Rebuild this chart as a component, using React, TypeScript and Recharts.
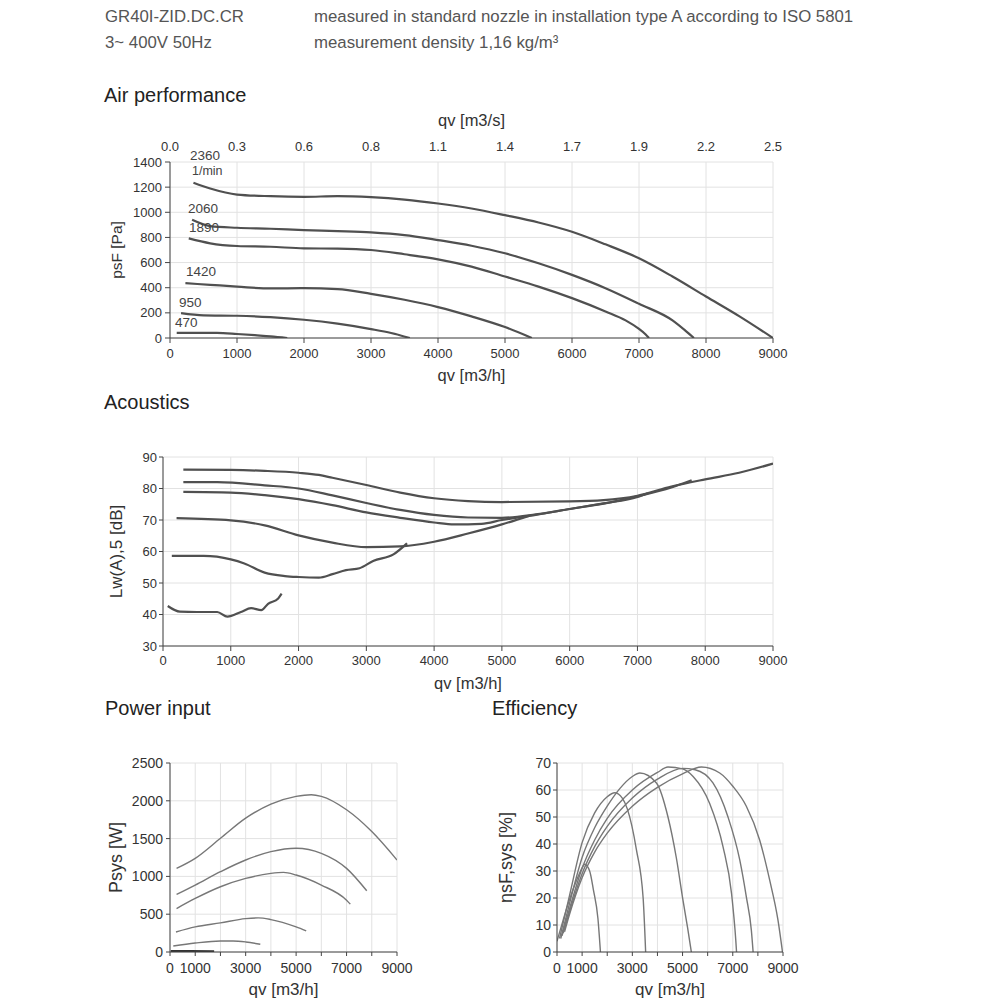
import { CartesianGrid, Line, LineChart, ReferenceDot, XAxis, YAxis } from "recharts";

const TEXT = "#333";
const HEAD = "#555";
const GRID = "#e2e2e2";
const AXIS = "#444";
const THICK = "#505050";
const THIN = "#777";
const FONT = "'Liberation Sans', Arial, sans-serif";

const SPEEDS = ["2360", "2060", "1890", "1420", "950", "470"];

// shared qv axis, m3/h
const QV_TICKS = [0, 1000, 2000, 3000, 4000, 5000, 6000, 7000, 8000, 9000];
const QV_S_LABELS = ["0.0", "0.3", "0.6", "0.8", "1.1", "1.4", "1.7", "1.9", "2.2", "2.5"];
const QV_SMALL_LABELS = ["0", "1000", "", "3000", "", "5000", "", "7000", "", "9000"];
const PSF_TICKS = [0, 200, 400, 600, 800, 1000, 1200, 1400];
const LW_TICKS = [30, 40, 50, 60, 70, 80, 90];
const PSYS_TICKS = [0, 500, 1000, 1500, 2000, 2500];
const ETA_TICKS = [0, 10, 20, 30, 40, 50, 60, 70];

// Air performance, psF [Pa]
const AIR_2360 = [[350, 1235], [600, 1189], [1000, 1141], [1500, 1128], [2000, 1123], [2500, 1128], [3000, 1120], [3500, 1101], [4000, 1070], [4500, 1030], [5000, 977], [5500, 919], [6000, 845], [6500, 745], [7000, 634], [7500, 489], [8000, 330], [8500, 172], [9000, 0]];
const AIR_2060 = [[330, 940], [600, 890], [1000, 877], [1500, 869], [2000, 858], [2500, 850], [3000, 840], [3500, 819], [4000, 779], [4500, 734], [5000, 674], [5500, 594], [6000, 502], [6500, 396], [7000, 272], [7500, 140], [7700, 55], [7820, 0]];
const AIR_1890 = [[280, 792], [600, 753], [1000, 732], [1500, 726], [2000, 713], [2500, 711], [3000, 700], [3500, 666], [4000, 626], [4500, 568], [5000, 489], [5500, 409], [6000, 317], [6500, 211], [6800, 140], [7000, 72], [7100, 28], [7150, 0]];
const AIR_1420 = [[230, 436], [600, 423], [1000, 409], [1500, 394], [2000, 396], [2500, 389], [3000, 351], [3500, 304], [4000, 246], [4500, 172], [5000, 87], [5400, 0]];
const AIR_950 = [[165, 198], [500, 180], [1000, 177], [1500, 166], [2000, 145], [2500, 114], [3000, 71], [3300, 40], [3580, 0]];
const AIR_470 = [[100, 40], [700, 40], [1000, 32], [1300, 21], [1500, 13], [1750, 0]];

// Acoustics, Lw(A),5 [dB]
const AC_2360 = [[300, 86], [1000, 85.9], [1500, 85.6], [2000, 85], [2300, 84.3], [2500, 83.4], [3000, 81.1], [3500, 78.7], [4000, 76.9], [4500, 76], [5000, 75.7], [6000, 75.9], [6500, 76.3], [7000, 77.7], [7500, 80.6], [8000, 82.9], [8500, 85], [9000, 87.9]];
const AC_2060 = [[300, 82], [800, 82], [1500, 81], [2000, 80], [2500, 77.8], [3000, 75.4], [3500, 73.2], [4000, 71.6], [4500, 70.8], [5000, 70.7], [5500, 71.8], [6000, 73.5], [6500, 75.2], [7000, 77.5], [7500, 80.3], [7800, 82.6]];
const AC_1890 = [[300, 78.9], [1000, 78.7], [1500, 77.9], [2000, 76.6], [2500, 74.7], [3000, 72.4], [3500, 70.7], [4000, 69.2], [4300, 68.6], [4700, 68.8], [5000, 70], [5500, 71.6], [6000, 73.5], [6500, 75.3], [7000, 77.3], [7150, 78.5]];
const AC_1420 = [[200, 70.6], [1000, 69.9], [1500, 68.3], [2000, 65.1], [2500, 62.8], [3000, 61.4], [3500, 61.6], [4000, 63.1], [4500, 65.7], [5000, 68.6], [5400, 71.3]];
const AC_950 = [[130, 58.6], [600, 58.6], [1000, 57.5], [1200, 56.2], [1500, 53.3], [1800, 52.2], [2000, 51.9], [2300, 51.7], [2500, 52.8], [2700, 54.1], [2900, 54.7], [3100, 57], [3400, 59.1], [3600, 62.6]];
const AC_470 = [[70, 42.7], [250, 40.9], [500, 40.8], [800, 40.8], [950, 39.3], [1150, 40.8], [1300, 42], [1450, 41.4], [1550, 43.4], [1700, 45.1], [1750, 46.6]];

// Power input, Psys [W]
const PW_2360 = [[260, 1106], [1000, 1239], [2000, 1504], [3000, 1770], [4000, 1956], [5000, 2058], [5600, 2080], [6000, 2058], [7000, 1881], [8000, 1593], [9000, 1217]];
const PW_2060 = [[260, 761], [1000, 885], [2000, 1062], [3000, 1217], [4000, 1327], [5000, 1372], [6000, 1305], [7000, 1106], [7800, 810]];
const PW_1890 = [[260, 575], [1000, 708], [2000, 863], [3000, 973], [4000, 1040], [4500, 1053], [5000, 1018], [6000, 885], [7000, 686], [7150, 633]];
const PW_1420 = [[237, 265], [1000, 332], [2000, 385], [3000, 442], [3500, 451], [4000, 429], [5000, 332], [5400, 279]];
const PW_950 = [[130, 80], [1000, 119], [2000, 146], [2500, 146], [3000, 133], [3580, 102]];
const PW_470 = [[30, 12], [800, 12], [1750, 10]];

// Efficiency, etaSF,sys [%]
const EF_2360 = [[300, 7.5], [500, 14], [1000, 27.5], [1500, 37], [2000, 44], [3000, 54], [4000, 61], [5000, 66], [5750, 68.5], [6480, 66.3], [7010, 61.3], [7540, 54], [8070, 41.5], [8470, 26.6], [8800, 11.8], [8980, 0]];
const EF_2060 = [[250, 7], [500, 15], [1000, 29], [1500, 39], [2000, 46.5], [3000, 57], [4000, 64], [5000, 68], [5500, 67.5], [6210, 62.6], [6810, 50], [7280, 34], [7540, 20.4], [7740, 8], [7810, 0]];
const EF_1890 = [[200, 6], [500, 16], [1000, 31], [1500, 41.5], [2000, 49.5], [3000, 60], [4000, 66.5], [4420, 68.5], [5000, 67.8], [5420, 65], [6080, 55], [6610, 39], [6950, 21.7], [7120, 4.3], [7150, 0]];
const EF_1420 = [[150, 5], [500, 18], [1000, 35], [1500, 46], [2000, 54], [2500, 60.5], [3000, 65], [3300, 66.3], [3960, 62.6], [4420, 50], [4750, 35], [5020, 19], [5200, 9], [5350, 0]];
const EF_950 = [[100, 5], [500, 21], [1000, 40.5], [1500, 51.5], [2000, 57.5], [2300, 59], [2600, 57], [2800, 53], [3160, 38], [3430, 20], [3530, 0]];
const EF_470 = [[0, 4], [250, 12], [500, 19.5], [800, 27], [1000, 31.2], [1100, 32.5], [1300, 30], [1450, 23], [1630, 12.4], [1730, 0]];

const AIR = [AIR_2360, AIR_2060, AIR_1890, AIR_1420, AIR_950, AIR_470];
const ACOUSTICS = [AC_2360, AC_2060, AC_1890, AC_1420, AC_950, AC_470];
const POWER = [PW_2360, PW_2060, PW_1890, PW_1420, PW_950, PW_470];
const EFFICIENCY = [EF_2360, EF_2060, EF_1890, EF_1420, EF_950, EF_470];

// where the speed labels sit on the air performance chart (qv, psF)
const SPEED_LABEL_AT = [[299, 1456], [269, 1034], [284, 883], [239, 533], [134, 286], [75, 127]];
const UNIT_LABEL_AT = [328, 1328];

const toPts = (pairs: number[][]) => pairs.map(([q, v]) => ({ q, v }));

function yTitle(text: string, x: number, fontSize: number) {
  return {
    content: (props: any) => {
      const vb = props.viewBox || { y: 0, height: 0 };
      const y = vb.y + vb.height / 2;
      return (
        <text
          x={x}
          y={y}
          transform={`rotate(-90 ${x} ${y})`}
          textAnchor="middle"
          dominantBaseline="central"
          fontSize={fontSize}
          fill={TEXT}
          fontFamily={FONT}
        >
          {text}
        </text>
      );
    },
  };
}

function curves(series: number[][][], xAxisId: string | number, color: string, width: number, lastColor?: string) {
  return series.map((s, i) => {
    const isLast = lastColor && i === series.length - 1;
    return (
      <Line
        key={SPEEDS[i]}
        xAxisId={xAxisId}
        data={toPts(s)}
        dataKey="v"
        type="monotone"
        stroke={isLast ? lastColor : color}
        strokeWidth={isLast ? 2.2 : width}
        dot={false}
        activeDot={false}
        isAnimationActive={false}
      />
    );
  });
}

const abs = (left: number, top: number): React.CSSProperties => ({ position: "absolute", left, top });

export default function App() {
  const tick13 = { fontSize: 13, fill: TEXT, fontFamily: FONT };
  const tick14 = { fontSize: 14, fill: TEXT, fontFamily: FONT };
  const head = { fontSize: 16.8, lineHeight: "18px", color: HEAD, whiteSpace: "nowrap" as const };
  const title = { fontSize: 20, lineHeight: "22px", color: "#222", whiteSpace: "nowrap" as const };
  return (
    <div style={{ position: "absolute", left: 0, top: 0, width: 1000, height: 1008, background: "#fff", fontFamily: FONT, overflow: "hidden" }}>
      <div style={{ ...abs(105, 8), ...head }}>GR40I-ZID.DC.CR</div>
      <div style={{ ...abs(314, 8), ...head }}>measured in standard nozzle in installation type A according to ISO 5801</div>
      <div style={{ ...abs(105, 34), ...head }}>3~ 400V 50Hz</div>
      <div style={{ ...abs(314, 34), ...head }}>measurement density 1,16 kg/m³</div>

      <div style={{ ...abs(104, 84), ...title }}>Air performance</div>
      <div style={{ ...abs(104, 391), ...title }}>Acoustics</div>
      <div style={{ ...abs(105, 697), ...title }}>Power input</div>
      <div style={{ ...abs(492, 697), ...title }}>Efficiency</div>

      {/* Air performance */}
      <div style={abs(0, 0)}>
        <LineChart width={1000} height={400} margin={{ top: 132, right: 227, bottom: 32, left: 110 }}>
          <CartesianGrid xAxisId="bottom" stroke={GRID} />
          <XAxis
            xAxisId="top"
            orientation="top"
            type="number"
            dataKey="q"
            domain={[0, 9000]}
            allowDataOverflow
            ticks={QV_TICKS}
            tickFormatter={(v: number) => QV_S_LABELS[QV_TICKS.indexOf(v)]}
            axisLine={false}
            tickLine={false}
            tickSize={0}
            tickMargin={11}
            height={30}
            tick={tick13}
            interval={0}
            label={{ value: "qv [m3/s]", position: "top", offset: 6, fontSize: 16.5, fill: TEXT, fontFamily: FONT }}
          />
          <XAxis
            xAxisId="bottom"
            type="number"
            dataKey="q"
            domain={[0, 9000]}
            allowDataOverflow
            ticks={QV_TICKS}
            stroke={AXIS}
            tickSize={5}
            tickMargin={6}
            height={30}
            tick={tick13}
            interval={0}
            label={{ value: "qv [m3/h]", position: "bottom", offset: 1, fontSize: 16.5, fill: TEXT, fontFamily: FONT }}
          />
          <YAxis
            type="number"
            domain={[0, 1400]}
            allowDataOverflow
            ticks={PSF_TICKS}
            stroke={AXIS}
            tickSize={5}
            tickMargin={3}
            width={60}
            tick={tick13}
            interval={0}
            label={yTitle("psF [Pa]", 116, 15.5)}
          />
          {curves(AIR, "bottom", THICK, 2.2)}
          {SPEEDS.map((s, i) => (
            <ReferenceDot
              key={"l" + s}
              xAxisId="bottom"
              x={SPEED_LABEL_AT[i][0]}
              y={SPEED_LABEL_AT[i][1]}
              r={0}
              stroke="none"
              fill="none"
              ifOverflow="visible"
              label={{ value: s, position: "right", offset: 0, fontSize: 13.5, fill: "#444", fontFamily: FONT }}
            />
          ))}
          <ReferenceDot
            xAxisId="bottom"
            x={UNIT_LABEL_AT[0]}
            y={UNIT_LABEL_AT[1]}
            r={0}
            stroke="none"
            fill="none"
            ifOverflow="visible"
            label={{ value: "1/min", position: "right", offset: 0, fontSize: 12.5, fill: "#444", fontFamily: FONT }}
          />
        </LineChart>
      </div>

      {/* Acoustics */}
      <div style={abs(0, 400)}>
        <LineChart width={1000} height={300} margin={{ top: 57, right: 227, bottom: 24, left: 103 }}>
          <CartesianGrid stroke={GRID} />
          <XAxis
            type="number"
            dataKey="q"
            domain={[0, 9000]}
            allowDataOverflow
            ticks={QV_TICKS}
            stroke={AXIS}
            tickSize={5}
            tickMargin={5}
            height={30}
            tick={tick13}
            interval={0}
            label={{ value: "qv [m3/h]", position: "bottom", offset: 1, fontSize: 16.5, fill: TEXT, fontFamily: FONT }}
          />
          <YAxis
            type="number"
            domain={[30, 90]}
            allowDataOverflow
            ticks={LW_TICKS}
            stroke={AXIS}
            tickSize={4}
            tickMargin={2}
            width={60}
            tick={tick13}
            interval={0}
            label={yTitle("Lw(A),5 [dB]", 116, 17)}
          />
          {curves(ACOUSTICS, 0, THICK, 2.2)}
        </LineChart>
      </div>

      {/* Power input */}
      <div style={abs(0, 700)}>
        <LineChart width={450} height={300} margin={{ top: 63, right: 53, bottom: 18, left: 110 }}>
          <CartesianGrid stroke={GRID} />
          <XAxis
            type="number"
            dataKey="q"
            domain={[0, 9000]}
            allowDataOverflow
            ticks={QV_TICKS}
            tickFormatter={(v: number) => QV_SMALL_LABELS[QV_TICKS.indexOf(v)]}
            stroke={AXIS}
            tickSize={4}
            tickMargin={7}
            height={30}
            tick={tick14}
            interval={0}
            label={{ value: "qv [m3/h]", position: "bottom", offset: 1, fontSize: 17, fill: TEXT, fontFamily: FONT }}
          />
          <YAxis
            type="number"
            domain={[0, 2500]}
            allowDataOverflow
            ticks={PSYS_TICKS}
            stroke={AXIS}
            tickSize={4}
            tickMargin={3}
            width={60}
            tick={tick14}
            interval={0}
            label={yTitle("Psys [W]", 116, 18)}
          />
          {curves(POWER, 0, THIN, 1.4, "#333")}
        </LineChart>
      </div>

      {/* Efficiency */}
      <div style={abs(450, 700)}>
        <LineChart width={550} height={300} margin={{ top: 63, right: 217, bottom: 18, left: 57 }}>
          <CartesianGrid stroke={GRID} />
          <XAxis
            type="number"
            dataKey="q"
            domain={[0, 9000]}
            allowDataOverflow
            ticks={QV_TICKS}
            tickFormatter={(v: number) => QV_SMALL_LABELS[QV_TICKS.indexOf(v)]}
            stroke={AXIS}
            tickSize={4}
            tickMargin={7}
            height={30}
            tick={tick14}
            interval={0}
            label={{ value: "qv [m3/h]", position: "bottom", offset: 1, fontSize: 17, fill: TEXT, fontFamily: FONT }}
          />
          <YAxis
            type="number"
            domain={[0, 70]}
            allowDataOverflow
            ticks={ETA_TICKS}
            stroke={AXIS}
            tickSize={4}
            tickMargin={2}
            width={50}
            tick={tick14}
            interval={0}
            label={yTitle("ηsF,sys [%]", 56, 18)}
          />
          {curves(EFFICIENCY, 0, THIN, 1.4)}
        </LineChart>
      </div>
    </div>
  );
}
